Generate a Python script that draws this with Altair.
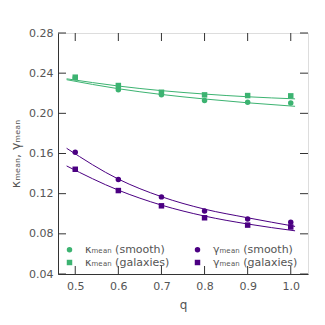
import altair as alt
import pandas as pd

q = [0.5, 0.6, 0.7, 0.8, 0.9, 1.0]
kappa_smooth = [0.2355, 0.2235, 0.2185, 0.2127, 0.2110, 0.2104]
kappa_gal = [0.2360, 0.2277, 0.2210, 0.2184, 0.2177, 0.2174]
gamma_smooth = [0.1612, 0.1340, 0.1168, 0.1027, 0.0947, 0.0915]
gamma_gal = [0.1443, 0.1231, 0.1079, 0.0960, 0.0887, 0.0868]

fit_q = [0.48, 0.6, 0.7, 0.8, 0.9, 1.01]
fit_kappa_smooth = [0.2335, 0.2245, 0.2188, 0.2143, 0.2105, 0.2070]
fit_kappa_gal = [0.2344, 0.2272, 0.2226, 0.2192, 0.2165, 0.2144]
fit_gamma_smooth = [0.1652, 0.1345, 0.1170, 0.1046, 0.0960, 0.0874]
fit_gamma_gal = [0.1476, 0.1235, 0.1086, 0.0977, 0.0898, 0.0830]

x_ticks = [0.5, 0.6, 0.7, 0.8, 0.9, 1.0]
y_ticks = [0.04, 0.08, 0.12, 0.16, 0.20, 0.24, 0.28]

labels = ["κₘₑₐₙ (smooth)", "κₘₑₐₙ (galaxies)", "γₘₑₐₙ (smooth)", "γₘₑₐₙ (galaxies)"]
colors = ["#3cb371", "#3cb371", "#4b0082", "#4b0082"]
shapes = ["circle", "square", "circle", "square"]
series_vals = [kappa_smooth, kappa_gal, gamma_smooth, gamma_gal]
fit_vals = [fit_kappa_smooth, fit_kappa_gal, fit_gamma_smooth, fit_gamma_gal]

W, H = 250, 241
FONT = "DejaVu Sans"
GREY = "#555555"

pts = pd.DataFrame([
    {"q": qq, "v": v, "series": lab}
    for lab, vals in zip(labels, series_vals) for qq, v in zip(q, vals)
])
fits = pd.DataFrame([
    {"q": qq, "v": v, "series": lab}
    for lab, vals in zip(labels, fit_vals) for qq, v in zip(fit_q, vals)
])

xs = alt.Scale(domain=[0.46, 1.04], nice=False, zero=False)
ys = alt.Scale(domain=[0.04, 0.28], nice=False, zero=False)
cs = alt.Scale(domain=labels, range=colors)
ss = alt.Scale(domain=labels, range=shapes)

xaxis = alt.Axis(values=x_ticks, format=".1f", ticks=False, grid=False, title="q",
                 labelFont=FONT, labelFontSize=11, labelColor=GREY, labelPadding=6,
                 titleFont=FONT, titleFontSize=12, titleFontWeight="normal", titleColor=GREY,
                 titlePadding=8, domainColor="#333333")
yaxis = alt.Axis(values=y_ticks, format=".2f", ticks=False, grid=False, title="κₘₑₐₙ, γₘₑₐₙ",
                 labelFont=FONT, labelFontSize=11, labelColor=GREY, labelPadding=5,
                 titleFont=FONT, titleFontSize=12.5, titleFontWeight="normal", titleColor=GREY,
                 titlePadding=6, domainColor="#333333")

leg = alt.Legend(
    title=None, orient="bottom-left", columns=2, offset=4,
    labelFont=FONT, labelFontSize=11, labelColor=GREY,
    symbolSize=30, symbolType="circle", columnPadding=22, rowPadding=1,
    labelOffset=10, padding=2, symbolStrokeWidth=0)

lines = alt.Chart(fits).mark_line(strokeWidth=1, interpolate="monotone").encode(
    x=alt.X("q:Q", scale=xs, axis=xaxis),
    y=alt.Y("v:Q", scale=ys, axis=yaxis),
    color=alt.Color("series:N", scale=cs, legend=leg),
    detail="series:N",
)

points = alt.Chart(pts).mark_point(filled=True, opacity=1, size=30).encode(
    x=alt.X("q:Q", scale=xs),
    y=alt.Y("v:Q", scale=ys),
    color=alt.Color("series:N", scale=cs, legend=leg),
    shape=alt.Shape("series:N", scale=ss, legend=leg),
)

xt = pd.DataFrame({"t": x_ticks})
yt = pd.DataFrame({"t": y_ticks})
TL = 8
bottom_ticks = alt.Chart(xt).mark_rule(color="#333333").encode(
    x=alt.X("t:Q", scale=xs), y=alt.value(H), y2=alt.value(H - TL))
top_ticks = alt.Chart(xt).mark_rule(color="#333333").encode(
    x=alt.X("t:Q", scale=xs), y=alt.value(0), y2=alt.value(TL))
left_ticks = alt.Chart(yt).mark_rule(color="#333333").encode(
    y=alt.Y("t:Q", scale=ys), x=alt.value(0), x2=alt.value(TL))
right_ticks = alt.Chart(yt).mark_rule(color="#333333").encode(
    y=alt.Y("t:Q", scale=ys), x=alt.value(W - TL), x2=alt.value(W))

chart = alt.layer(lines, points, bottom_ticks, top_ticks, left_ticks, right_ticks).properties(
    width=W, height=H,
    autosize=alt.AutoSizeParams(type="none"),
    padding={"left": 50, "top": 25, "right": 9, "bottom": 43},
).configure_view(stroke="#333333", strokeWidth=1).configure(background="white")

chart.save("out.html", embed_options={"renderer": "svg", "actions": False})
